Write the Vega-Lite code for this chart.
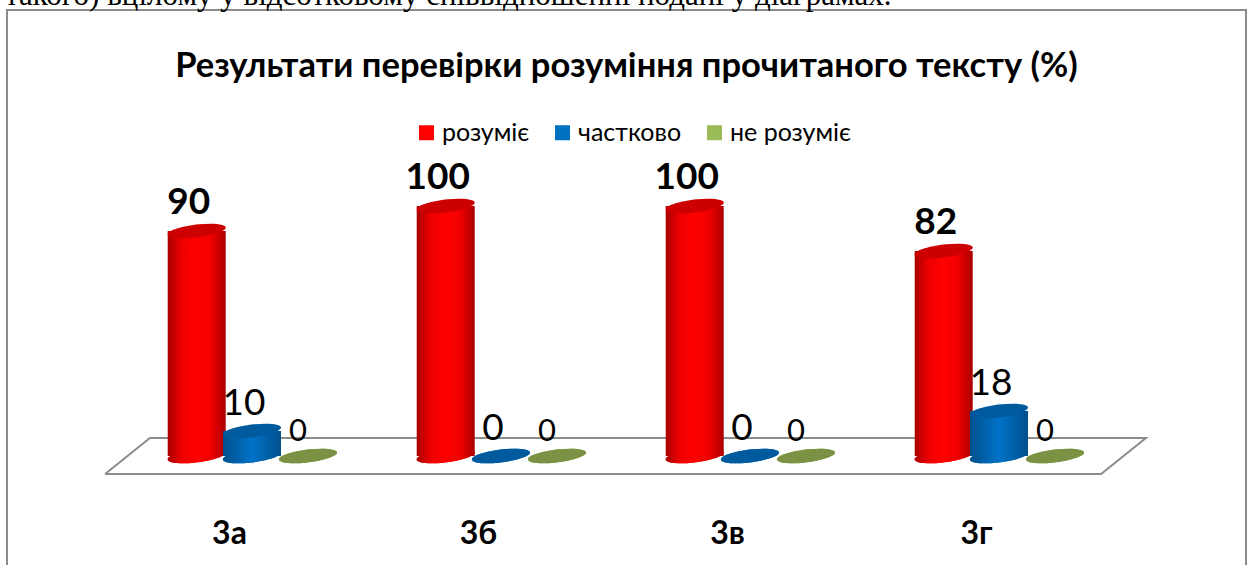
{
"$schema":"https://vega.github.io/schema/vega-lite/v6.json",
"width":1253,"height":565,"padding":0,"autosize":"none","background":"white",
"title":{"text":"Результати перевірки розуміння прочитаного тексту (%)","font":"Lato","fontSize":34.5,"fontWeight":"bold","color":"#000000","anchor":"middle","frame":"group","offset":-131,"baseline":"alphabetic"},
"datasets":{
"bars":[
{"class":"3а","pos":-0.222,"series":"розуміє","value":90},{"class":"3а","pos":0,"series":"частково","value":10},{"class":"3а","pos":0.225,"series":"не розуміє","value":0},
{"class":"3б","pos":0.778,"series":"розуміє","value":100},{"class":"3б","pos":1,"series":"частково","value":0},{"class":"3б","pos":1.225,"series":"не розуміє","value":0},
{"class":"3в","pos":1.778,"series":"розуміє","value":100},{"class":"3в","pos":2,"series":"частково","value":0},{"class":"3в","pos":2.225,"series":"не розуміє","value":0},
{"class":"3г","pos":2.778,"series":"розуміє","value":82},{"class":"3г","pos":3,"series":"частково","value":18},{"class":"3г","pos":3.225,"series":"не розуміє","value":0}],
"outline":[
{"part":"floor","i":0,"pos":-0.59,"value":-7.2},{"part":"floor","i":1,"pos":-0.41,"value":7.2},{"part":"floor","i":2,"pos":3.59,"value":7.2},{"part":"floor","i":3,"pos":3.41,"value":-7.2},{"part":"floor","i":4,"pos":-0.59,"value":-7.2},
{"part":"frame","i":0,"pos":-0.984,"value":-50},{"part":"frame","i":1,"pos":-0.984,"value":178.4},{"part":"frame","i":2,"pos":3.992,"value":178.4},{"part":"frame","i":3,"pos":3.992,"value":-50}],
"caption":[{"pos":-0.992,"value":180.4,"text":"такого) вцілому у відсотковому співвідношенні подані у діаграмах."}]
},
"encoding":{
"x":{"field":"pos","type":"quantitative","scale":{"domain":[0,3],"range":[252,999],"padding":0,"nice":false,"zero":false},
"axis":{"title":null,"orient":"bottom","offset":-47,"domain":false,"ticks":false,"grid":false,"values":[0,1,2,3],"labelExpr":"['3а','3б','3в','3г'][datum.value]","labelAngle":0,"labelFlush":false,"labelOverlap":false,"labelFont":"Lato","labelFontSize":32,"labelFontWeight":"bold","labelColor":"#000000","labelPadding":0,"labelOffset":-23}},
"y":{"field":"value","type":"quantitative","scale":{"domain":[-43.6,182.4],"range":[565,0],"nice":false,"zero":false},"axis":null}
},
"layer":[
{"data":{"name":"outline"},"mark":{"type":"line","color":"#8c8c8c","strokeWidth":2,"clip":false},
"encoding":{"detail":{"field":"part"},"order":{"field":"i"}}},
{"data":{"name":"caption"},"mark":{"type":"text","font":"Liberation Serif","fontSize":31,"align":"left","baseline":"alphabetic","color":"#000000"},
"encoding":{"text":{"field":"text"}}},
{"data":{"name":"bars"},"mark":{"type":"point","shape":"M-1,0.1 A1,0.22 -7 1,1 1,-0.1 A1,0.22 -7 1,1 -1,0.1 Z","size":3364,"filled":true,"opacity":1},
"encoding":{"y":{"datum":0,"type":"quantitative"},"color":{"field":"series","type":"nominal","scale":{"domain":["розуміє","частково","не розуміє"],"range":["#ff0000","#0070c0","#9bbb59"]},
"legend":{"title":null,"orient":"none","legendX":414,"legendY":120,"direction":"horizontal","columns":3,"symbolType":"square","symbolSize":225,"labelFont":"Lato","labelFontSize":25,"labelColor":"#000000","labelOffset":3,"columnPadding":20,"symbolOpacity":1,"symbolStrokeWidth":0}}}},
{"data":{"name":"bars"},"transform":[{"filter":"datum.series==='розуміє'"}],"mark":{"type":"point","shape":"M-1,0.1 A1,0.22 -7 1,1 1,-0.1 A1,0.22 -7 1,1 -1,0.1 Z","size":3364,"filled":true,"opacity":1,"color":{"x1":0,"y1":0,"x2":1,"y2":0,"gradient":"linear","stops":[{"offset":0,"color":"#a80000"},{"offset":0.25,"color":"#f00000"},{"offset":0.5,"color":"#ff0000"},{"offset":0.75,"color":"#f00000"},{"offset":1,"color":"#a80000"}]}},
"encoding":{"y":{"datum":0,"type":"quantitative"}}},
{"data":{"name":"bars"},"transform":[{"filter":"datum.series==='частково' && datum.value>0"}],"mark":{"type":"point","shape":"M-1,0.1 A1,0.22 -7 1,1 1,-0.1 A1,0.22 -7 1,1 -1,0.1 Z","size":3364,"filled":true,"opacity":1,"color":{"x1":0,"y1":0,"x2":1,"y2":0,"gradient":"linear","stops":[{"offset":0,"color":"#00508c"},{"offset":0.5,"color":"#0072c8"},{"offset":1,"color":"#00508c"}]}},
"encoding":{"y":{"datum":0,"type":"quantitative"}}},
{"data":{"name":"bars"},"transform":[{"filter":"datum.series==='розуміє'"}],"mark":{"type":"bar","orient":"vertical","width":58,"color":{"x1":0,"y1":0,"x2":1,"y2":0,"gradient":"linear","stops":[{"offset":0,"color":"#a80000"},{"offset":0.25,"color":"#f00000"},{"offset":0.5,"color":"#ff0000"},{"offset":0.75,"color":"#f00000"},{"offset":1,"color":"#a80000"}]}},
"encoding":{"y2":{"datum":0}}},
{"data":{"name":"bars"},"transform":[{"filter":"datum.series==='частково' && datum.value>0"}],"mark":{"type":"bar","orient":"vertical","width":58,"color":{"x1":0,"y1":0,"x2":1,"y2":0,"gradient":"linear","stops":[{"offset":0,"color":"#00508c"},{"offset":0.5,"color":"#0072c8"},{"offset":1,"color":"#00508c"}]}},
"encoding":{"y2":{"datum":0}}},
{"data":{"name":"bars"},"transform":[{"filter":"datum.series==='розуміє'"}],"mark":{"type":"point","shape":"M-1,0.1 A1,0.22 -7 1,1 1,-0.1 A1,0.22 -7 1,1 -1,0.1 Z","size":3364,"filled":true,"opacity":1,"color":"#cc0000"}},
{"data":{"name":"bars"},"transform":[{"filter":"datum.series==='частково'"}],"mark":{"type":"point","shape":"M-1,0.1 A1,0.22 -7 1,1 1,-0.1 A1,0.22 -7 1,1 -1,0.1 Z","size":3364,"filled":true,"opacity":1,"color":"#005a9e"}},
{"data":{"name":"bars"},"transform":[{"filter":"datum.series==='не розуміє'"}],"mark":{"type":"point","shape":"M-1,0.1 A1,0.22 -7 1,1 1,-0.1 A1,0.22 -7 1,1 -1,0.1 Z","size":3364,"filled":true,"opacity":1,"color":"#7b9144"}},
{"data":{"name":"bars"},"transform":[{"filter":"datum.series==='розуміє'"}],"mark":{"type":"text","font":"Lato","fontSize":37,"fontWeight":"bold","color":"#000000","baseline":"alphabetic","dx":-8,"dy":-17},"encoding":{"text":{"field":"value","type":"quantitative"}}},
{"data":{"name":"bars"},"transform":[{"filter":"datum.series==='частково'"}],"mark":{"type":"text","font":"Lato","fontSize":37,"color":"#000000","baseline":"alphabetic","dx":-8,"dy":-16},"encoding":{"text":{"field":"value","type":"quantitative"}}},
{"data":{"name":"bars"},"transform":[{"filter":"datum.series==='не розуміє'"}],"mark":{"type":"text","font":"Lato","fontSize":31,"color":"#000000","baseline":"alphabetic","dx":-10,"dy":-15},"encoding":{"text":{"field":"value","type":"quantitative"}}}
],
"config":{"view":{"stroke":null}}
}
